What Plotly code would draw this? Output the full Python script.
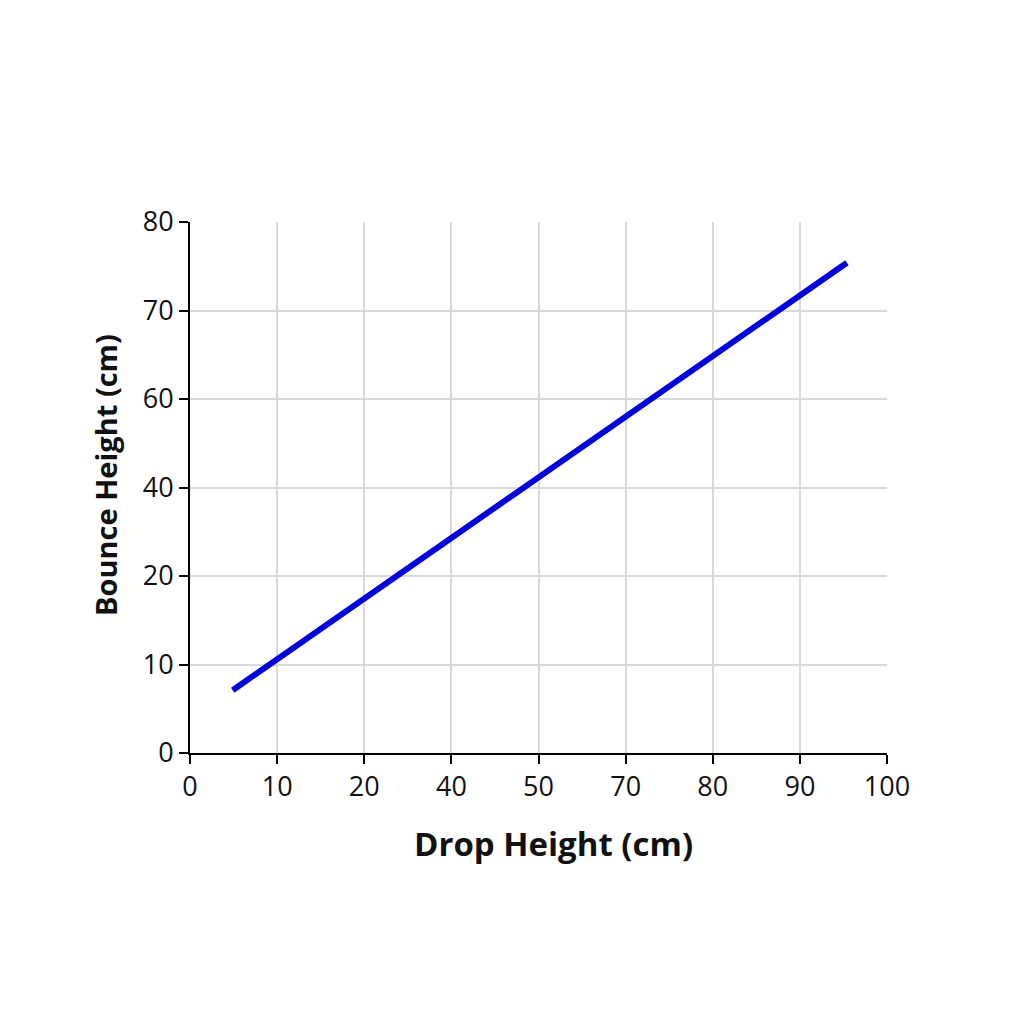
import plotly.graph_objects as go

# Tick labels as printed on the chart (evenly spaced, uneven values)
x_ticks = ["0", "10", "20", "40", "50", "70", "80", "90", "100"]
y_ticks = ["0", "10", "20", "40", "60", "70", "80"]

# Line end points, in tick-slot units
drop_pos = [0.49, 7.54]
bounce_pos = [0.71, 5.54]

fig = go.Figure()
fig.add_trace(go.Scatter(x=drop_pos, y=bounce_pos, mode="lines",
                         line=dict(color="#0000DD", width=6), showlegend=False))

axis_font = dict(family="Open Sans", size=27, color="#111111")

fig.update_layout(
    width=1024, height=1024,
    paper_bgcolor="white", plot_bgcolor="white",
    margin=dict(l=182, r=145, t=214, b=279),
    xaxis=dict(range=[0, 8], tickvals=list(range(len(x_ticks))), ticktext=x_ticks,
               showgrid=True, gridcolor="#D9D9D9", gridwidth=2,
               showline=True, linecolor="black", linewidth=2,
               ticks="outside", ticklen=9, tickwidth=2, tickcolor="black",
               tickfont=axis_font, zeroline=False),
    yaxis=dict(range=[0, 6], tickvals=list(range(len(y_ticks))), ticktext=y_ticks,
               showgrid=True, gridcolor="#D9D9D9", gridwidth=2,
               showline=True, linecolor="black", linewidth=2,
               ticks="outside", ticklen=9, tickwidth=2, tickcolor="black",
               tickfont=axis_font, zeroline=False),
)

# axis titles as annotations (they sit a bit off-centre in the original)
fig.add_annotation(text="<b>Drop Height (cm)</b>", xref="paper", yref="paper",
                   x=0.521, y=-0.1695, xanchor="center", yanchor="middle", showarrow=False,
                   font=dict(family="Open Sans", size=33, color="#111111"))
fig.add_annotation(text="<b>Bounce Height (cm)</b>", xref="paper", yref="paper",
                   x=-0.122, y=0.5235, xanchor="center", yanchor="middle", showarrow=False,
                   textangle=-90, font=dict(family="Open Sans", size=29, color="#111111"))

fig.write_html("out.html")
